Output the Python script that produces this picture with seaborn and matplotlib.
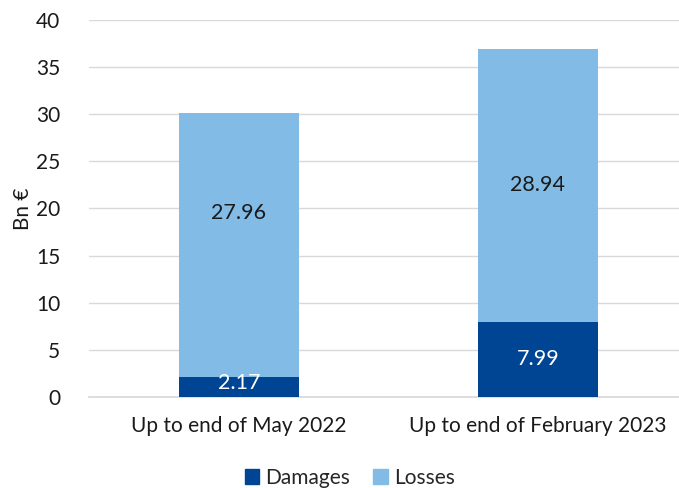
import seaborn as sns
import matplotlib.pyplot as plt
from matplotlib.patches import Patch
import pandas as pd

# Values in billions of euros
periods = ["Up to end of May 2022", "Up to end of February 2023"]
damages = [2.17, 7.99]
losses = [27.96, 28.94]

DARK = "#004494"
LIGHT = "#82bce6"
TXT = "#1a1a1a"

sns.set_theme(style="white")
plt.rcParams["font.family"] = ["Lato", "DejaVu Sans"]

df = pd.DataFrame({"period": periods, "damages": damages, "losses": losses})

fig = plt.figure(figsize=(6.79, 4.88), dpi=100)
ax = fig.add_axes([0.1318, 0.1865, 0.8807, 0.7725])

sns.barplot(data=df, x="period", y="damages", color=DARK, width=0.4,
            saturation=1, linewidth=0, ax=ax, zorder=3)
sns.barplot(data=df, x="period", y="losses", bottom=df["damages"], color=LIGHT,
            width=0.4, saturation=1, linewidth=0, ax=ax, zorder=3)

# value labels (first losses label sits a bit above the middle, like the original)
label_shift = [3.4, 0.0]
for i, (d, l) in enumerate(zip(damages, losses)):
    ax.text(i, max(d / 2, 1.5), f"{d:.2f}", ha="center", va="center",
            color="white", fontsize=15.5, zorder=4)
    ax.text(i, d + l / 2 + label_shift[i], f"{l:.2f}", ha="center", va="center",
            color=TXT, fontsize=15.5, zorder=4)

ax.set_ylim(0, 40)
ax.set_yticks(range(0, 45, 5))
ax.yaxis.grid(True, color="#d9d9d9", linewidth=1)
ax.set_axisbelow(True)
for s in ["top", "right", "left"]:
    ax.spines[s].set_visible(False)
ax.spines["bottom"].set_color("#d9d9d9")
ax.tick_params(axis="both", length=0, labelsize=15, colors=TXT)
ax.tick_params(axis="x", pad=14)
ax.tick_params(axis="y", pad=21)
ax.set_xlabel("")
ax.set_ylabel("Bn €", fontsize=15, color=TXT, labelpad=2)

handles = [Patch(color=DARK, label="Damages"), Patch(color=LIGHT, label="Losses")]
fig.legend(handles=handles, loc="lower center", ncol=2, frameon=False,
           fontsize=15, bbox_to_anchor=(0.515, -0.03), handlelength=0.7,
           handleheight=0.7, handletextpad=0.3, columnspacing=1.1,
           borderaxespad=0.3)

fig.savefig("out.png", dpi=100)
